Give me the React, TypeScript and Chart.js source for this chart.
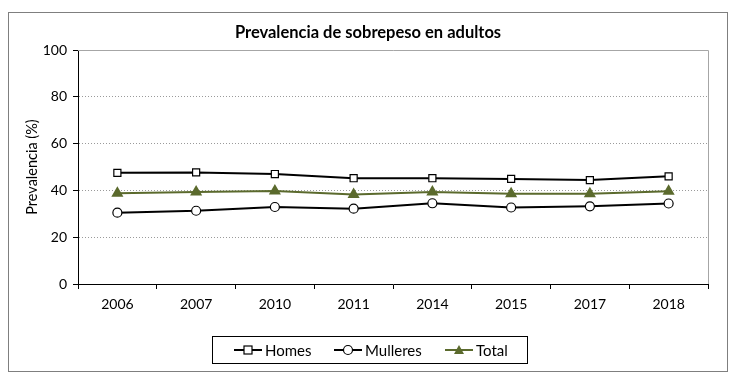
import React, { useEffect, useRef } from "react";
import { Chart, registerables } from "chart.js";

Chart.register(...registerables);

const years = ["2006", "2007", "2010", "2011", "2014", "2015", "2017", "2018"];
const homes = [47.5, 47.7, 47.0, 45.2, 45.2, 44.9, 44.4, 46.0];
const mulleres = [30.5, 31.3, 32.9, 32.2, 34.5, 32.7, 33.2, 34.4];
const total = [38.8, 39.3, 39.7, 38.3, 39.3, 38.6, 38.6, 39.6];
const yTicks = [0, 20, 40, 60, 80, 100];

const OLIVE = "#5b6a2d";
const FONT = "Lato, 'Open Sans', sans-serif";
const TITLE = "Prevalencia de sobrepeso en adultos";
const YTITLE = "Prevalencia (%)";
const legendItems = [
  { label: "Homes", color: "#000", style: "rect" },
  { label: "Mulleres", color: "#000", style: "circle" },
  { label: "Total", color: OLIVE, style: "triangle" },
];

function drawMarker(ctx: CanvasRenderingContext2D, style: string, x: number, y: number, color: string) {
  ctx.save();
  ctx.lineWidth = 1.2;
  ctx.strokeStyle = color;
  if (style === "rect") {
    ctx.fillStyle = "#fff";
    ctx.fillRect(x - 4, y - 4, 8, 8);
    ctx.strokeRect(x - 4, y - 4, 8, 8);
  } else if (style === "circle") {
    ctx.fillStyle = "#fff";
    ctx.beginPath();
    ctx.arc(x, y, 4.5, 0, Math.PI * 2);
    ctx.fill();
    ctx.stroke();
  } else {
    ctx.fillStyle = color;
    ctx.beginPath();
    ctx.moveTo(x, y - 5);
    ctx.lineTo(x + 5, y + 4);
    ctx.lineTo(x - 5, y + 4);
    ctx.closePath();
    ctx.fill();
  }
  ctx.restore();
}

const framePlugin = {
  id: "framePlugin",
  afterDraw(chart: any) {
    const ctx: CanvasRenderingContext2D = chart.ctx;
    const { left, right, top, bottom } = chart.chartArea;
    ctx.save();
    // outer frame
    ctx.strokeStyle = "#7f7f7f";
    ctx.lineWidth = 1;
    ctx.strokeRect(8.5, 12.5, 719, 359);
    // plot top & right border
    ctx.strokeStyle = "#a6a6a6";
    ctx.beginPath();
    ctx.moveTo(left, Math.round(top) + 0.5);
    ctx.lineTo(Math.round(right) + 0.5, Math.round(top) + 0.5);
    ctx.lineTo(Math.round(right) + 0.5, bottom);
    ctx.stroke();
    // title
    ctx.fillStyle = "#000";
    ctx.font = `bold 16.5px ${FONT}`;
    ctx.textAlign = "center";
    ctx.textBaseline = "middle";
    ctx.fillText(TITLE, 368, 33);
    // y title
    ctx.save();
    ctx.translate(32, (top + bottom) / 2);
    ctx.rotate(-Math.PI / 2);
    ctx.font = `14.5px ${FONT}`;
    ctx.fillText(YTITLE, 0, 0);
    ctx.restore();
    // legend
    ctx.strokeStyle = "#000";
    ctx.lineWidth = 1;
    ctx.strokeRect(212.5, 336.5, 315, 27);
    const starts = [234, 334, 445];
    ctx.font = `15px ${FONT}`;
    ctx.textAlign = "left";
    legendItems.forEach((it, i) => {
      const x0 = starts[i];
      const y = 350;
      ctx.strokeStyle = it.color;
      ctx.lineWidth = 2;
      ctx.beginPath();
      ctx.moveTo(x0, y);
      ctx.lineTo(x0 + 28, y);
      ctx.stroke();
      drawMarker(ctx, it.style, x0 + 14, y, it.color);
      ctx.fillStyle = "#000";
      ctx.fillText(it.label, x0 + 31, y + 1);
    });
    ctx.restore();
  },
};

export default function App() {
  const ref = useRef<HTMLCanvasElement>(null);
  useEffect(() => {
    document.body.style.margin = "0";
    const c = new Chart(ref.current!, {
      type: "line",
      data: {
        labels: years,
        datasets: [
          {
            label: "Homes",
            data: homes,
            borderColor: "#000",
            backgroundColor: "#fff",
            borderWidth: 2,
            pointStyle: "rect",
            pointRadius: 5,
            pointBorderWidth: 1.2,
            pointBackgroundColor: "#fff",
            pointBorderColor: "#000",
            tension: 0,
          },
          {
            label: "Mulleres",
            data: mulleres,
            borderColor: "#000",
            backgroundColor: "#fff",
            borderWidth: 2,
            pointStyle: "circle",
            pointRadius: 4.5,
            pointBorderWidth: 1.2,
            pointBackgroundColor: "#fff",
            pointBorderColor: "#000",
            tension: 0,
          },
          {
            label: "Total",
            data: total,
            borderColor: OLIVE,
            backgroundColor: OLIVE,
            borderWidth: 2,
            pointStyle: "triangle",
            pointRadius: 5,
            pointBackgroundColor: OLIVE,
            pointBorderColor: OLIVE,
            tension: 0,
          },
        ],
      },
      options: {
        animation: false,
        responsive: false,
        layout: { padding: { left: 8, right: 30, top: 50, bottom: 0 } },
        plugins: { legend: { display: false }, tooltip: { enabled: false }, title: { display: false } },
        scales: {
          x: {
            offset: true,
            afterFit: (s: any) => {
              s.height = 95;
            },
            grid: {
              display: true,
              drawOnChartArea: false,
              drawTicks: true,
              tickLength: 5,
              tickColor: "#000",
              offset: true,
            },
            border: { display: true, color: "#000", width: 1 },
            ticks: {
              color: "#000",
              font: { family: FONT, size: 14 },
              padding: 7,
              maxRotation: 0,
            },
          },
          y: {
            min: 0,
            max: 100,
            afterFit: (s: any) => {
              s.width = 70;
            },
            afterBuildTicks: (s: any) => {
              s.ticks = yTicks.map((v) => ({ value: v }));
            },
            grid: {
              color: (ctx: any) => (ctx.tick && (ctx.tick.value === 0 || ctx.tick.value === 100) ? "rgba(0,0,0,0)" : "#9a9a9a"),
              tickColor: "#000",
              tickLength: 5,
              drawTicks: true,
            },
            border: { display: true, color: "#000", width: 1, dash: [1, 2] },
            ticks: {
              color: "#000",
              font: { family: FONT, size: 14 },
              padding: 6,
            },
          },
        },
      },
      plugins: [framePlugin],
    });
    return () => c.destroy();
  }, []);
  return <canvas ref={ref} width={738} height={379} style={{ display: "block" }} />;
}
